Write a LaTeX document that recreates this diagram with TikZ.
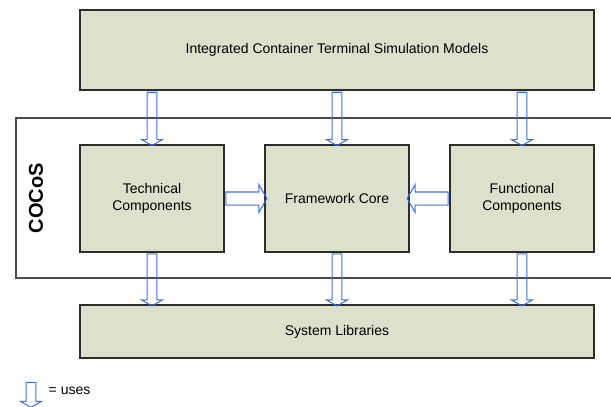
\documentclass[tikz,border=0pt]{standalone}
\usepackage{fontspec}
\setmainfont{Liberation Sans}
\usepackage{xcolor}
\definecolor{boxfill}{RGB}{221,224,203}
\definecolor{boxline}{RGB}{45,45,45}
\definecolor{usesblue}{RGB}{60,110,250}
\usepackage{tikz}
\usetikzlibrary{positioning,shapes.arrows}

\begin{document}
\begin{tikzpicture}[
  x=0.75pt, y=-0.75pt,
  font=\fontsize{10.5}{12.6}\selectfont,
  box/.style={draw=boxline,line width=1.1pt,fill=boxfill,align=center,inner sep=0pt,outer sep=0pt},
  frame/.style={draw=black!70,line width=0.9pt},
  uses/.style={draw=usesblue,line width=0.8pt,single arrow,single arrow tip angle=120,
    inner xsep=0pt,inner ysep=3.3pt,single arrow head extend=4.1pt,outer sep=0pt,
    sloped,allow upside down},
  usesh/.style={uses,inner ysep=4.5pt,single arrow head extend=5.6pt},
]
\useasboundingbox (0,0) rectangle (611,407);
\clip (0,0) rectangle (611,407);

% COCoS frame (runs off to the right)
\draw[frame] (16,118) rectangle (640,278);
\node[rotate=90,font=\fontsize{15}{18}\selectfont\bfseries] (cocos) at (36,198) {COCoS};

\node[box,minimum width=385.5pt,minimum height=60pt] (models) at (337,50)
  {Integrated Container Terminal Simulation Models};
\node[box,minimum width=108pt,minimum height=80.25pt] (tech) at (152,198.5) {Technical\\Components};
\node[box,minimum width=108pt,minimum height=80.25pt,right=30.75pt of tech] (core) {Framework Core};
\node[box,minimum width=108pt,minimum height=80.25pt,right=30.75pt of core] (func) {Functional\\Components};
\node[box,minimum width=385.5pt,minimum height=39.75pt,below=39.75pt of core] (libs) {System Libraries};

% models use the components
\path (models.south -| tech.north) -- node[uses,minimum height=40pt] {} (tech.north);
\path (models.south -| core.north) -- node[uses,minimum height=40pt] {} (core.north);
\path (models.south -| func.north) -- node[uses,minimum height=40pt] {} (func.north);

% components use the core
\path (tech.east) -- node[usesh,minimum height=30.75pt] {} (core.west);
\path (func.west) -- node[usesh,minimum height=30.75pt] {} (core.east);

% everything uses the libraries
\path (tech.south) -- node[uses,minimum height=39pt] {} (libs.north -| tech.south);
\path (core.south) -- node[uses,minimum height=39pt] {} (libs.north -| core.south);
\path (func.south) -- node[uses,minimum height=39pt] {} (libs.north -| func.south);

% key
\node[uses,sloped=false,rotate=-90,minimum height=18.75pt] (key) at (31,393.5) {};
\node[anchor=west] (keytext) at (44,391) {= uses};
\end{tikzpicture}
\end{document}
